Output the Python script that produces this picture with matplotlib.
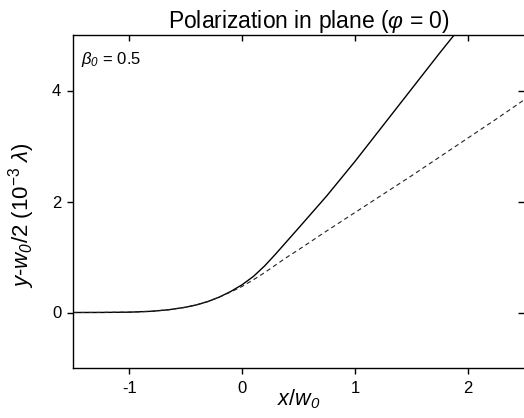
import matplotlib
matplotlib.use("Agg")
import matplotlib.pyplot as plt

plt.rcParams['font.family'] = ['Liberation Sans', 'DejaVu Sans']
plt.rcParams['mathtext.fontset'] = 'custom'
plt.rcParams['mathtext.rm'] = 'Liberation Sans'
plt.rcParams['mathtext.it'] = 'Liberation Sans:italic'
plt.rcParams['mathtext.sf'] = 'Liberation Sans:italic'
plt.rcParams['mathtext.bf'] = 'Liberation Sans:bold'

# common part of both curves
x_common = [-1.5, -1.25, -1.0, -0.8, -0.65, -0.5, -0.4, -0.3, -0.2]
y_common = [0.0, 0.001, 0.006, 0.022, 0.05, 0.095, 0.14, 0.2, 0.28]

x_solid = [-0.1, 0.0, 0.1, 0.2, 0.3, 0.4, 0.5, 0.75, 1.0, 1.25, 1.5, 1.75, 1.9]
y_solid = [0.38, 0.5, 0.65, 0.84, 1.06, 1.29, 1.52, 2.1, 2.72, 3.37, 4.02, 4.67, 5.05]

x_dash = [-0.1, 0.0, 0.1, 0.2, 0.3, 0.4, 0.5, 0.75, 1.0, 1.25, 1.5, 1.75, 2.0, 2.25, 2.5]
y_dash = [0.37, 0.47, 0.59, 0.72, 0.86, 1.0, 1.13, 1.47, 1.8, 2.13, 2.46, 2.8, 3.14, 3.48, 3.83]

xticks = [-1, 0, 1, 2]
yticks = [0, 2, 4]

fig = plt.figure(figsize=(5.24, 4.18), dpi=100)
ax = fig.add_axes([73/524, 50/418, 451/524, 333/418])

ax.plot(x_common + x_solid, y_common + y_solid, color='black', lw=1.0)
ax.plot(x_common + x_dash, y_common + y_dash, color='#222222', lw=0.8,
        linestyle=(0, (4, 3)))

ax.set_xlim(-1.5, 2.5)
ax.set_ylim(-1, 5)
ax.set_xticks(xticks)
ax.set_xticklabels(['-1', '0', '1', '2'])
ax.set_yticks(yticks)

ax.spines['right'].set_visible(False)
for s in ['left', 'top', 'bottom']:
    ax.spines[s].set_linewidth(1.0)

ax.tick_params(axis='both', which='major', direction='out', length=4.5,
               width=1.0, labelsize=12, pad=4)
ax.tick_params(axis='x', pad=5)
secx = ax.secondary_xaxis('top')
secx.set_xticks(xticks)
secx.tick_params(direction='in', length=4.5, width=1.0, labeltop=False)
secx.spines['top'].set_visible(False)
secy = ax.secondary_yaxis('right')
secy.set_yticks(yticks)
secy.tick_params(direction='in', length=4.5, width=1.0, labelright=False)
secy.spines['right'].set_visible(False)

ax.set_title(r'Polarization in plane ($\varphi$ = 0)', fontsize=16.5, pad=3, x=0.523)
ax.set_xlabel(r'$x/w_{\mathsf{0}}$', fontsize=15.5)
ax.xaxis.set_label_coords(0.5, -0.058)
ax.set_ylabel(r'$y$-$w_{\mathsf{0}}$/2 (10$^{-3}$ $\lambda$)', fontsize=16)
ax.yaxis.set_label_coords(-0.08, 0.46)

ax.text(0.018, 0.955, r'$\beta_{\mathsf{0}}$ = 0.5', transform=ax.transAxes, fontsize=12,
        va='top', ha='left')

fig.savefig('out.png', dpi=100)
